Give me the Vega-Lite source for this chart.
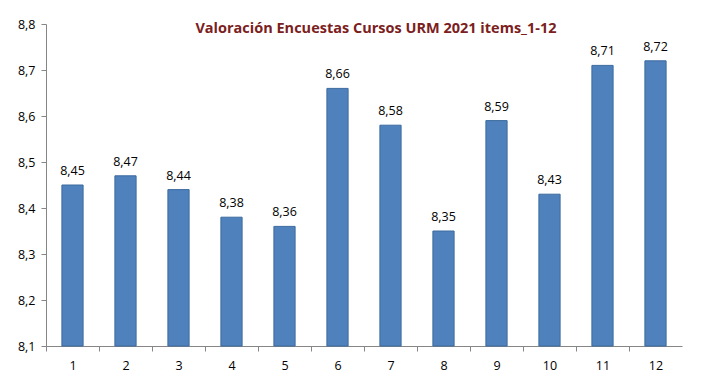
{
  "$schema": "https://vega.github.io/schema/vega-lite/v6.json",
  "width": 636,
  "height": 322,
  "autosize": {"type": "none"},
  "padding": {"left": 46, "top": 24, "right": 24, "bottom": 42},
  "background": "white",
  "config": {
    "locale": {"number": {"decimal": ",", "thousands": ".", "grouping": [3], "currency": ["", " €"]}},
    "view": {"stroke": null},
    "font": "Open Sans"
  },
  "title": {
    "text": "Valoración Encuestas Cursos URM 2021 items_1-12",
    "font": "Open Sans",
    "fontSize": 14.5,
    "fontWeight": "bold",
    "color": "#7B2020",
    "anchor": "middle",
    "frame": "group",
    "baseline": "alphabetic",
    "offset": 0,
    "dx": 12,
    "dy": 29
  },
  "data": {
    "values": [
      {"item": "1", "valor": 8.45},
      {"item": "2", "valor": 8.47},
      {"item": "3", "valor": 8.44},
      {"item": "4", "valor": 8.38},
      {"item": "5", "valor": 8.36},
      {"item": "6", "valor": 8.66},
      {"item": "7", "valor": 8.58},
      {"item": "8", "valor": 8.35},
      {"item": "9", "valor": 8.59},
      {"item": "10", "valor": 8.43},
      {"item": "11", "valor": 8.71},
      {"item": "12", "valor": 8.72}
    ]
  },
  "encoding": {
    "x": {
      "field": "item",
      "type": "ordinal",
      "sort": null,
      "scale": {"paddingInner": 0.6, "paddingOuter": 0.3},
      "axis": {
        "title": null,
        "labelAngle": 0,
        "labelFont": "Open Sans",
        "labelFontSize": 12.5,
        "labelColor": "#000000",
        "labelPadding": 8,
        "domainColor": "#868686",
        "tickColor": "#868686",
        "tickOffset": -26.5,
        "labelOffset": 26.5,
        "tickSize": 5
      }
    },
    "y": {
      "field": "valor",
      "type": "quantitative",
      "scale": {"domain": [8.1, 8.8], "zero": false, "nice": false},
      "axis": {
        "title": null,
        "values": [8.1, 8.2, 8.3, 8.4, 8.5, 8.6, 8.7, 8.8],
        "format": ".1f",
        "grid": false,
        "labelFont": "Open Sans",
        "labelFontSize": 12.5,
        "labelColor": "#000000",
        "labelPadding": 6,
        "domainColor": "#868686",
        "tickColor": "#868686",
        "tickSize": 5
      }
    }
  },
  "layer": [
    {
      "mark": {"type": "bar", "color": "#4F81BD", "stroke": "#3C6A9E", "strokeWidth": 1},
      "encoding": {"y2": {"datum": 8.1}}
    },
    {
      "mark": {"type": "text", "baseline": "alphabetic", "dy": -10, "fontSize": 12.5, "font": "Open Sans", "color": "#000000"},
      "encoding": {"text": {"field": "valor", "type": "quantitative", "format": ".2f"}}
    }
  ]
}
